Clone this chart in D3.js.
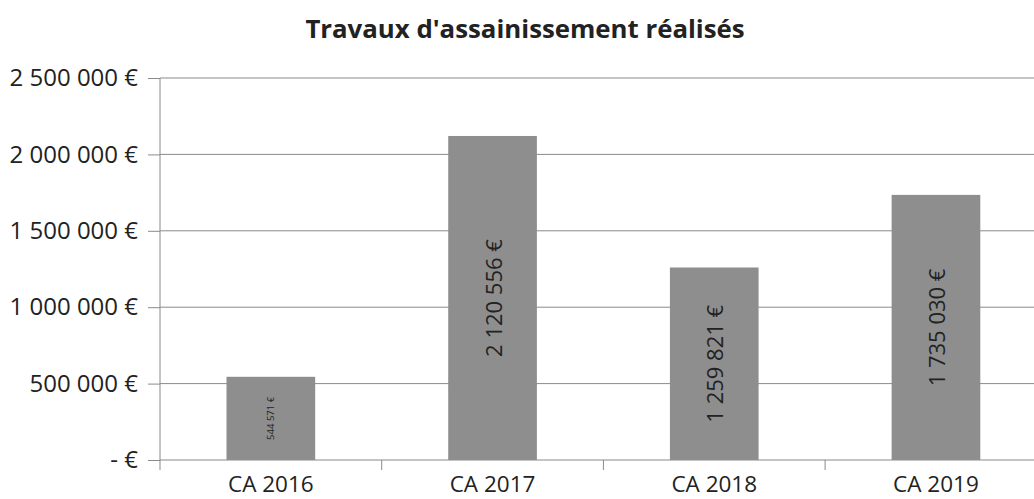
<!DOCTYPE html>
<html>
<head>
<meta charset="utf-8">
<script src="https://cdn.jsdelivr.net/npm/d3@7"></script>
<style>
  body { margin: 0; background: #fff; }
  text { font-family: "Open Sans", sans-serif; fill: #222; }
</style>
</head>
<body>
<svg></svg>
<script>
const categories = ["CA 2016", "CA 2017", "CA 2018", "CA 2019"];
const amounts = [544571, 2120556, 1259821, 1735030];
const yTicks = [0, 500000, 1000000, 1500000, 2000000, 2500000];
const title = "Travaux d'assainissement réalisés";

const width = 1034;
const height = 499;
const margin = { top: 78, left: 160, bottom: 39 };

const svg = d3.select("svg").attr("width", width).attr("height", height);

const fmt = (v) => (v === 0 ? "- €" : d3.format(",")(v).replace(/,/g, " ") + " €");

const x = d3
  .scaleBand()
  .domain(categories)
  .range([margin.left, margin.left + 4 * 221.7])
  .paddingInner(0.6)
  .paddingOuter(0.3);

const y = d3
  .scaleLinear()
  .domain([0, 2500000])
  .range([height - margin.bottom, margin.top]);

// gridlines + y labels
const yAxis = svg
  .append("g")
  .attr("transform", `translate(${margin.left},0)`)
  .call(
    d3
      .axisLeft(y)
      .tickValues(yTicks)
      .tickSize(12)
      .tickFormat(fmt)
  );
yAxis.select(".domain").remove();
yAxis.selectAll("line").attr("stroke", "#8a8a8a");
yAxis.selectAll("text").attr("font-size", 24).attr("x", -22).attr("fill", "#222");

svg
  .append("g")
  .selectAll("line")
  .data(yTicks)
  .join("line")
  .attr("x1", margin.left)
  .attr("x2", width)
  .attr("y1", (d) => y(d))
  .attr("y2", (d) => y(d))
  .attr("stroke", "#8a8a8a")
  .attr("stroke-width", 1);

// axis line
svg
  .append("line")
  .attr("x1", margin.left)
  .attr("x2", margin.left)
  .attr("y1", y(2500000))
  .attr("y2", y(0) + 10)
  .attr("stroke", "#8a8a8a");

// category ticks at band boundaries
const step = x.step();
svg
  .append("g")
  .selectAll("line")
  .data(categories.slice(1))
  .join("line")
  .attr("x1", (d) => x(d) - (step * x.paddingInner()) / 2)
  .attr("x2", (d) => x(d) - (step * x.paddingInner()) / 2)
  .attr("y1", y(0))
  .attr("y2", y(0) + 10)
  .attr("stroke", "#8a8a8a");

// bars
svg
  .append("g")
  .selectAll("rect")
  .data(amounts)
  .join("rect")
  .attr("x", (d, i) => x(categories[i]))
  .attr("width", x.bandwidth())
  .attr("y", (d) => y(d))
  .attr("height", (d) => y(0) - y(d))
  .attr("fill", "#8e8e8e");

// labels inside bars
svg
  .append("g")
  .selectAll("text")
  .data(amounts)
  .join("text")
  .attr("transform", (d, i) => {
    const cx = x(categories[i]) + x.bandwidth() / 2;
    const cy = (y(d) + y(0)) / 2;
    return `translate(${cx},${cy}) rotate(-90)`;
  })
  .attr("text-anchor", "middle")
  .attr("dominant-baseline", "central")
  .attr("font-size", (d) => (d < 1000000 ? 9.5 : 22))
  .attr("fill", "#333")
  .text((d) => fmt(d));

// category labels
svg
  .append("g")
  .selectAll("text")
  .data(categories)
  .join("text")
  .attr("x", (d) => x(d) + x.bandwidth() / 2)
  .attr("y", 492)
  .attr("text-anchor", "middle")
  .attr("font-size", 22.5)
  .text((d) => d);

svg
  .append("text")
  .attr("x", 525)
  .attr("y", 38)
  .attr("text-anchor", "middle")
  .attr("font-size", 25.8)
  .attr("font-weight", "bold")
  .text(title);
</script>
</body>
</html>
